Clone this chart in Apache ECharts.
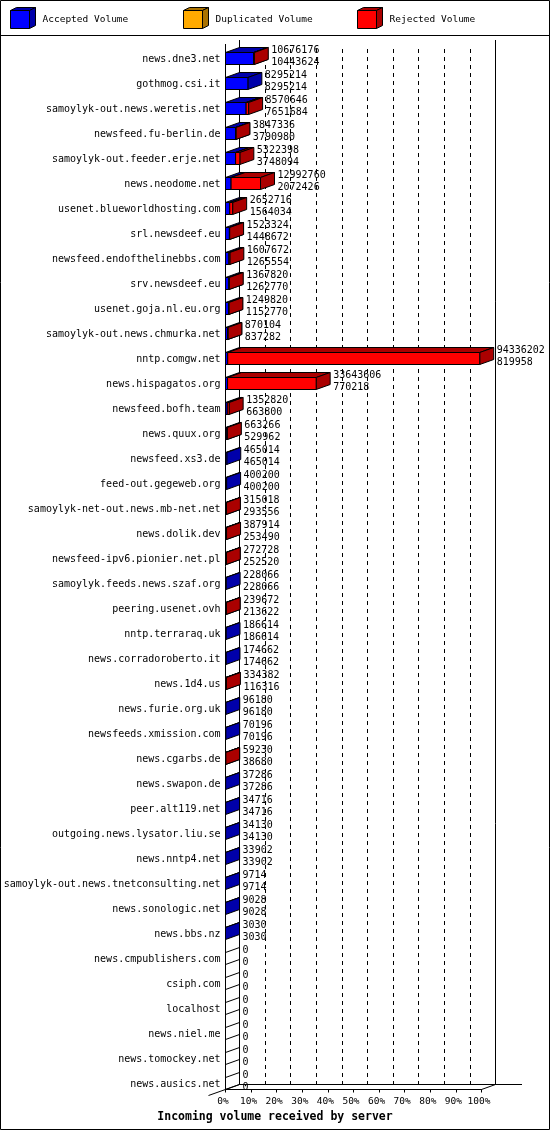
<!DOCTYPE html>
<html>
<head>
<meta charset="utf-8">
<script src="https://cdn.jsdelivr.net/npm/echarts@6/dist/echarts.min.js"></script>
<style>
html,body{margin:0;padding:0;background:#fff;}
#main{width:550px;height:1130px;}
</style>
</head>
<body>
<div id="main"></div>
<script>
// servers, top to bottom
var servers = ["news.dne3.net","gothmog.csi.it","samoylyk-out.news.weretis.net","newsfeed.fu-berlin.de",
	"samoylyk-out.feeder.erje.net","news.neodome.net","usenet.blueworldhosting.com","srl.newsdeef.eu",
	"newsfeed.endofthelinebbs.com","srv.newsdeef.eu","usenet.goja.nl.eu.org","samoylyk-out.news.chmurka.net",
	"nntp.comgw.net","news.hispagatos.org","newsfeed.bofh.team","news.quux.org","newsfeed.xs3.de",
	"feed-out.gegeweb.org","samoylyk-net-out.news.mb-net.net","news.dolik.dev","newsfeed-ipv6.pionier.net.pl",
	"samoylyk.feeds.news.szaf.org","peering.usenet.ovh","nntp.terraraq.uk","news.corradoroberto.it",
	"news.1d4.us","news.furie.org.uk","newsfeeds.xmission.com","news.cgarbs.de","news.swapon.de",
	"peer.alt119.net","outgoing.news.lysator.liu.se","news.nntp4.net","samoylyk-out.news.tnetconsulting.net",
	"news.sonologic.net","news.bbs.nz","news.cmpublishers.com","csiph.com","localhost","news.niel.me",
	"news.tomockey.net","news.ausics.net"];
// upper number next to each bar (total offered)
var offered = [10676176,8295214,8570646,3847336,5322398,12992760,2652716,1523324,1607672,1367820,1249820,870104,
	94336202,33643606,1352820,663266,465014,400200,315018,387914,272728,228066,239672,186614,174662,334382,
	96180,70196,59230,37286,34716,34130,33902,9714,9028,3030,0,0,0,0,0,0];
// lower number (accepted)
var accepted = [10443624,8295214,7651684,3790980,3748094,2072426,1564034,1448672,1265554,1262770,1152770,837282,
	819958,770218,663800,529962,465014,400200,293556,253490,252520,228066,213622,186614,174662,116316,
	96180,70196,38680,37286,34716,34130,33902,9714,9028,3030,0,0,0,0,0,0];
var duplicated = [0,0,0,0,0,0,0,0,0,0,0,0,0,0,0,0,0,0,0,0,0,0,0,0,0,0,0,0,0,0,0,0,0,0,0,0,0,0,0,0,0,0];
var rejected = [232552,0,918962,56356,1574304,10920334,1088682,74652,342118,105050,97050,32822,
	93516244,32873388,689020,133304,0,0,21462,134424,20208,0,26050,0,0,218066,
	0,0,20550,0,0,0,0,0,0,0,0,0,0,0,0,0];
var tickLabels = ["0%","10%","20%","30%","40%","50%","60%","70%","80%","90%","100%"];
var legendNames = ["Accepted Volume","Duplicated Volume","Rejected Volume"];

var M = 95000000;
var DX = 14, DY = -5;
var FONT = "DejaVu Sans Mono";
var colors = [
	{front:"#0000ff", dark:"#0000aa"},
	{front:"#ffaa00", dark:"#aa7200"},
	{front:"#ff0000", dark:"#aa0000"}
];

var myChart = echarts.init(document.getElementById("main"));

// 3D bar segment k (0 accepted, 1 duplicated, 2 rejected)
function segment(k){
	return function(params, api){
		var i = params.dataIndex;
		var segs = [accepted[i], duplicated[i], rejected[i]];
		var v = segs[k];
		if(!v) return null;
		var start = 0;
		for(var j=0;j<k;j++) start += segs[j];
		var p0 = api.coord([start, i]);
		var p1 = api.coord([start+v, i]);
		var xl = p0[0], xr = p1[0];
		var yt = p0[1]-6.5, yb = p0[1]+5.5;
		var c = colors[k];
		return {type:"group", children:[
			{type:"polygon", shape:{points:[[xl,yt],[xl+DX,yt+DY],[xr+DX,yt+DY],[xr,yt]]},
				style:{fill:c.dark, stroke:"#000", lineWidth:1}},
			{type:"polygon", shape:{points:[[xr,yt],[xr+DX,yt+DY],[xr+DX,yb+DY],[xr,yb]]},
				style:{fill:c.dark, stroke:"#000", lineWidth:1}},
			{type:"rect", shape:{x:xl, y:yt, width:xr-xl, height:yb-yt},
				style:{fill:c.front, stroke:"#000", lineWidth:1}}
		]};
	};
}

// value labels (+ empty outline for zero rows)
function valueLabel(params, api){
	var i = params.dataIndex;
	var p = api.coord([offered[i], i]);
	var kids = [{type:"text", x:p[0]+DX+3, y:p[1]-3,
		style:{text:offered[i]+"\n"+accepted[i], fill:"#000", fontFamily:FONT, fontSize:10,
			lineHeight:12, align:"left", verticalAlign:"middle"}}];
	if(offered[i]===0){
		var yt = p[1]-6.5, yb = p[1]+5.5;
		kids.push({type:"polyline", shape:{points:[[p[0],yt],[p[0]+DX,yt+DY]]}, style:{stroke:"#000", lineWidth:1, fill:null}});
		kids.push({type:"polyline", shape:{points:[[p[0],yb],[p[0]+DX,yb+DY]]}, style:{stroke:"#000", lineWidth:1, fill:null}});
	}
	return {type:"group", children:kids};
}

function cube(x, y, c){
	return [
		{type:"polygon", shape:{points:[[x,y],[x+6,y-3],[x+25,y-3],[x+19,y]]}, style:{fill:c.dark, stroke:"#000", lineWidth:1}},
		{type:"polygon", shape:{points:[[x+19,y],[x+25,y-3],[x+25,y+15],[x+19,y+18]]}, style:{fill:c.dark, stroke:"#000", lineWidth:1}},
		{type:"rect", shape:{x:x, y:y, width:19, height:18}, style:{fill:c.front, stroke:"#000", lineWidth:1}}
	];
}

var graphics = [
	{type:"rect", shape:{x:0.5, y:0.5, width:549, height:1129}, style:{fill:null, stroke:"#000", lineWidth:1}, z:100},
	{type:"line", shape:{x1:0, y1:35.5, x2:550, y2:35.5}, style:{stroke:"#000", lineWidth:1}},
	// walls and floor
	{type:"line", shape:{x1:225.5, y1:44, x2:225.5, y2:1089.5}, style:{stroke:"#000", lineWidth:1}, z:5},
	{type:"line", shape:{x1:239.5, y1:40, x2:239.5, y2:1084.5}, style:{stroke:"#000", lineWidth:1}, z:5},
	{type:"line", shape:{x1:495.5, y1:40, x2:495.5, y2:1084.5}, style:{stroke:"#000", lineWidth:1}, z:5},
	{type:"line", shape:{x1:495.5, y1:1084.5, x2:522, y2:1084.5}, style:{stroke:"#000", lineWidth:1}, z:5},
	{type:"line", shape:{x1:481.5, y1:1089.5, x2:495.5, y2:1084.5}, style:{stroke:"#000", lineWidth:1}, z:5},
	{type:"line", shape:{x1:208.5, y1:1095.5, x2:239.5, y2:1084.5}, style:{stroke:"#000", lineWidth:1}, z:5}
];
var lx = [10.5, 183.5, 357.5];
for(var k=0;k<3;k++){
	graphics = graphics.concat(cube(lx[k], 10.5, colors[k]));
	graphics.push({type:"text", x:lx[k]+32, y:20,
		style:{text:legendNames[k], fill:"#000", fontFamily:FONT, fontSize:9.5, verticalAlign:"middle"}});
}

var option = {
	animation:false,
	backgroundColor:"#fff",
	title:{
		text:"Incoming volume received by server",
		left:"center", top:1111, padding:0,
		textStyle:{fontFamily:FONT, fontSize:11.5, fontWeight:"bold", color:"#000"}
	},
	graphic:graphics,
	grid:[
		{left:225.5, width:256, top:46.5, height:1050},
		{left:239.5, width:256, top:49, height:1035.5}
	],
	xAxis:[
		{
			gridIndex:0, type:"value", min:0, max:M, interval:M/10, offset:-7,
			axisLine:{show:true, lineStyle:{color:"#000", width:1}},
			axisTick:{show:true, length:3, lineStyle:{color:"#000"}},
			splitLine:{show:false},
			axisLabel:{
				margin:7, color:"#000", fontFamily:FONT, fontSize:9.5, padding:[0,5,0,0],
				formatter:function(v){ return tickLabels[Math.round(v/M*10)]; }
			}
		},
		{
			gridIndex:1, type:"value", min:0, max:M, interval:M/10,
			axisLine:{show:true, lineStyle:{color:"#000", width:1}},
			axisTick:{show:false},
			axisLabel:{show:false},
			splitLine:{show:true, lineStyle:{color:"#000", width:1, type:[4,4]}}
		}
	],
	yAxis:[
		{
			gridIndex:0, type:"category", data:servers, inverse:true,
			axisLine:{show:false}, axisTick:{show:false},
			axisLabel:{interval:0, margin:5, color:"#000", fontFamily:FONT, fontSize:10}
		},
		{gridIndex:1, type:"value", show:false}
	],
	series:[
		{name:legendNames[0], type:"custom", renderItem:segment(0), xAxisIndex:0, yAxisIndex:0, z:10,
			data:accepted.map(function(v,i){ return [v,i]; })},
		{name:legendNames[1], type:"custom", renderItem:segment(1), xAxisIndex:0, yAxisIndex:0, z:10,
			data:duplicated.map(function(v,i){ return [v,i]; })},
		{name:legendNames[2], type:"custom", renderItem:segment(2), xAxisIndex:0, yAxisIndex:0, z:10,
			data:rejected.map(function(v,i){ return [v,i]; })},
		{name:"labels", type:"custom", renderItem:valueLabel, xAxisIndex:0, yAxisIndex:0, z:11,
			data:offered.map(function(v,i){ return [v,i]; })}
	]
};
myChart.setOption(option);
</script>
</body>
</html>
